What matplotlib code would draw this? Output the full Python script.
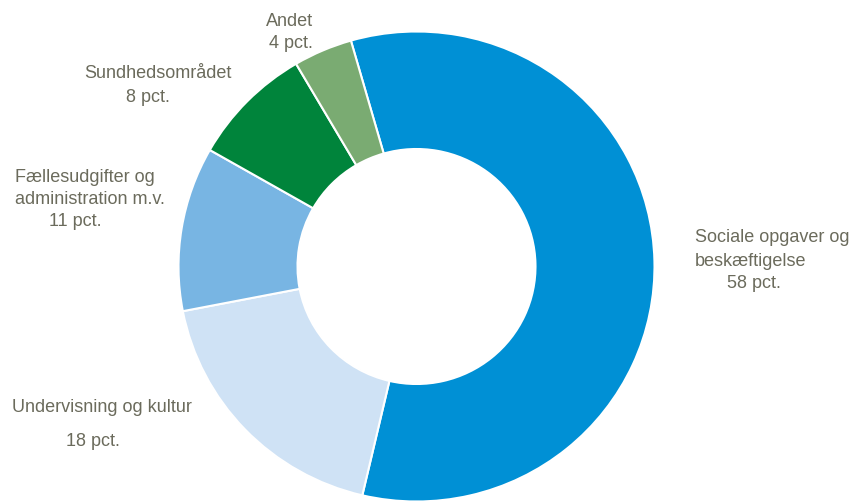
import matplotlib
matplotlib.use("Agg")
import matplotlib.pyplot as plt

# Shares of municipal expenditure (pct.), unrounded shares estimated from the ring
categories = ["Sociale opgaver og\nbeskæftigelse", "Undervisning og kultur",
              "Fællesudgifter og\nadministration m.v.", "Sundhedsområdet", "Andet"]
values = [58.1, 18.3, 11.3, 8.3, 4.0]
pct_labels = ["58 pct.", "18 pct.", "11 pct.", "8 pct.", "4 pct."]
colors = ["#0090d5", "#cfe2f5", "#78b5e3", "#00843b", "#7aab72"]

text_color = "#6b6b5c"
plt.rcParams["font.family"] = ["Liberation Sans Narrow", "Liberation Sans", "DejaVu Sans"]

W, H = 849, 504
k = 235 / 238  # slight vertical squash of the ring

fig = plt.figure(figsize=(W / 100, H / 100), dpi=100)
ax = fig.add_axes([0, 0, 1, 1])

cx, cy, r = 416.5, (H - 266.5) / k, 238
ax.pie(values, colors=colors, startangle=106.0, counterclock=False,
       center=(cx, cy), radius=r, frame=True,
       wedgeprops=dict(width=r * 0.5, edgecolor="white", linewidth=1.5))
ax.set_aspect("auto")
ax.set_xlim(0, W)
ax.set_ylim(0, H / k)
ax.axis("off")

fs = 13
def txt(x, y, s, ha="left"):
    ax.text(x, (H - y) / k, s, ha=ha, va="center", fontsize=fs, color=text_color)

# Sociale opgaver
txt(695, 238, "Sociale opgaver og")
txt(695, 261, "beskæftigelse")
txt(754, 284, pct_labels[0], ha="center")
# Undervisning
txt(12, 408, categories[1])
txt(93, 441, pct_labels[1], ha="center")
# Fællesudgifter
txt(15, 177, "Fællesudgifter og")
txt(15, 200, "administration m.v.")
txt(75, 222, pct_labels[2], ha="center")
# Sundhed
txt(158, 74, categories[3], ha="center")
txt(148, 98, pct_labels[3], ha="center")
# Andet
txt(313, 21, categories[4], ha="right")
txt(313, 44, pct_labels[4], ha="right")

fig.savefig("out.png", dpi=100, facecolor="white")
